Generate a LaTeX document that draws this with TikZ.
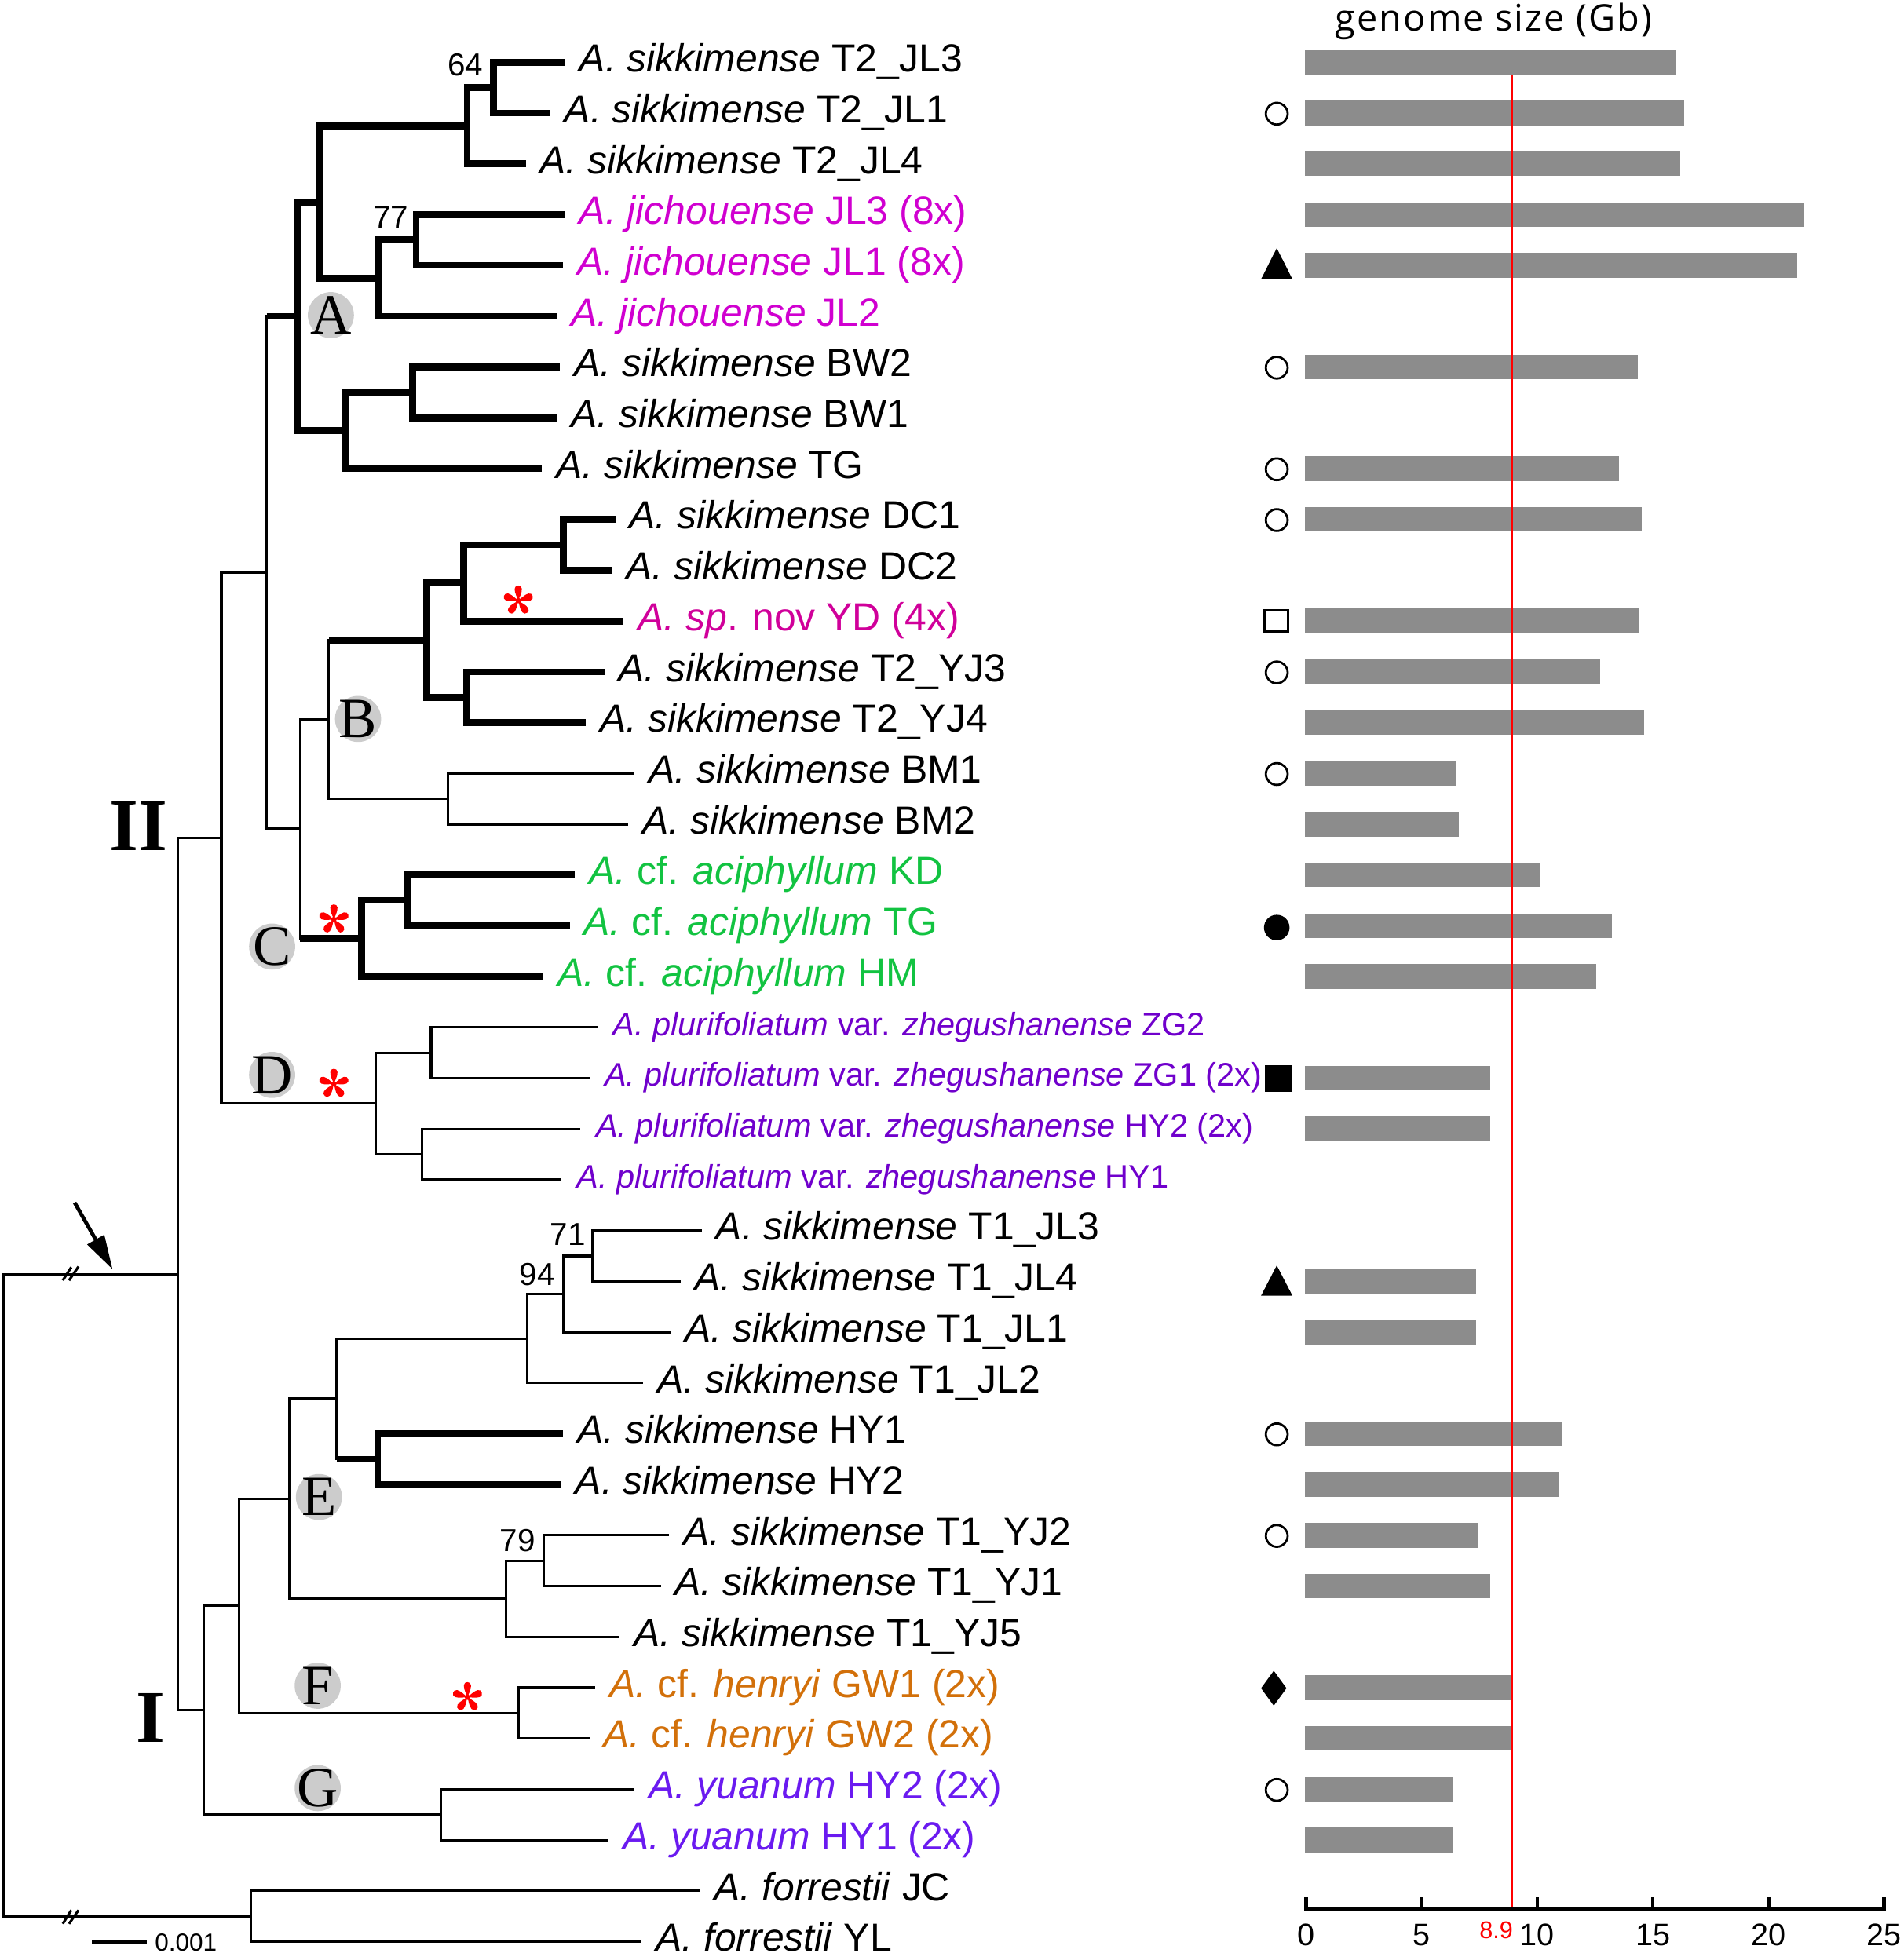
\documentclass[tikz,border=0pt]{standalone}
\usepackage{fontspec}
\setmainfont{Liberation Sans}
\newfontfamily\serifletters{Liberation Serif}
\newfontfamily\titlefont[LetterSpace=4.5]{Open Sans}
\usetikzlibrary{arrows.meta}
\definecolor{cmag}{HTML}{D000D0}
\definecolor{cpink}{HTML}{D0009A}
\definecolor{cgreen}{HTML}{12C341}
\definecolor{cpur}{HTML}{7000CC}
\definecolor{corange}{HTML}{D2700A}
\definecolor{cviol}{HTML}{6A1AF0}
\definecolor{cred}{HTML}{FF0000}
\definecolor{cgray}{HTML}{CCCCCC}
\definecolor{barg}{HTML}{8C8C8C}
\newcommand\tredge[3]{\draw[#1] (#2 |- #3) -- (#3);}
\newcommand\tvert[4]{\draw[#1] (#2 |- #3) -- (#2 |- #4);}
\begin{document}
\begin{tikzpicture}[x=0.02cm,y=-0.02cm,
  thn/.style={line width=0.04cm},
  thk/.style={line width=0.11cm},
  thkv/.style={line width=0.11cm, line cap=rect},
  thnv/.style={line width=0.04cm, line cap=rect},
  lbl/.style={anchor=base west, inner sep=0pt, xshift=0.22cm, yshift=-0.155cm, font=\fontsize{17.9}{20}\selectfont},
  plbl/.style={anchor=base west, inner sep=0pt, xshift=0.24cm, yshift=-0.13cm, font=\fontsize{14.9}{17}\selectfont, text=cpur},
  boot/.style={inner sep=0pt, font=\fontsize{14.5}{16}\selectfont},
  clab/.style={circle, fill=cgray, minimum size=0.74cm, inner sep=0pt},
  cletter/.style={inner sep=0pt, font=\serifletters\fontsize{26}{28}\selectfont},
  roman/.style={inner sep=0pt, font=\serifletters\bfseries\fontsize{34}{36}\selectfont},
  ocirc/.style={circle, draw, line width=0.035cm, minimum size=0.35cm, inner sep=0pt},
  fcirc/.style={circle, fill, minimum size=0.41cm, inner sep=0pt},
  redast/.pic={
    \foreach \a in {90,162,234,306,18} {
      \fill[cred, rotate=\a] (0,0) .. controls (3,-1) and (6,-3) .. (9.5,-2.9) .. controls (13,-2.8) and (13,2.8) .. (9.5,2.9) .. controls (6,3) and (3,1) .. (0,0);
    }
    \fill[cred] (0,0) circle (2.2);
  }
]
\useasboundingbox (0,0) rectangle (1528,1568);

% ---------- leaves ----------
\coordinate (L0) at (453.6,50.0);
\coordinate (L1) at (441.6,90.8);
\coordinate (L2) at (422,131.6);
\coordinate (L3) at (453.6,172.3);
\coordinate (L4) at (452,213.1);
\coordinate (L5) at (447,253.9);
\coordinate (L6) at (449.5,294.7);
\coordinate (L7) at (447,335.5);
\coordinate (L8) at (435,376.2);
\coordinate (L9) at (493.9,417.0);
\coordinate (L10) at (491.2,457.8);
\coordinate (L11) at (500.6,498.6);
\coordinate (L12) at (485,539.4);
\coordinate (L13) at (470.3,580.1);
\coordinate (L14) at (509.5,620.9);
\coordinate (L15) at (504.3,661.7);
\coordinate (L16) at (461.5,702.5);
\coordinate (L17) at (457.3,743.3);
\coordinate (L18) at (436.4,784.0);
\coordinate (L19) at (479.7,824.8);
\coordinate (L20) at (473,865.6);
\coordinate (L21) at (466,906.4);
\coordinate (L22) at (450.5,947.2);
\coordinate (L23) at (563.4,987.9);
\coordinate (L24) at (546.1,1028.7);
\coordinate (L25) at (538.3,1069.5);
\coordinate (L26) at (516.3,1110.3);
\coordinate (L27) at (452,1151.1);
\coordinate (L28) at (450.5,1191.8);
\coordinate (L29) at (537.2,1232.6);
\coordinate (L30) at (530.4,1273.4);
\coordinate (L31) at (497.5,1314.2);
\coordinate (L32) at (478,1355.0);
\coordinate (L33) at (473,1395.7);
\coordinate (L34) at (509.5,1436.5);
\coordinate (L35) at (488.6,1477.3);
\coordinate (L36) at (561.8,1518.1);
\coordinate (L37) at (515,1558.9);

% ---------- internal nodes ----------
\coordinate (n64) at (396,70.4);
\coordinate (nT2) at (375,101.0);
\coordinate (n77) at (334,192.7);
\coordinate (nJi) at (304,223.3);
\coordinate (nA1) at (256,162.2);
\coordinate (nBW) at (331,315.1);
\coordinate (nBT) at (277,345.7);
\coordinate (nA) at (239,253.9);
\coordinate (nDC) at (452,437.4);
\coordinate (nDY) at (372,468.0);
\coordinate (nYJ) at (374.7,559.8);
\coordinate (nBX) at (342.3,513.9);
\coordinate (nBM) at (359.5,641.3);
\coordinate (nB) at (264,577.6);
\coordinate (nKD) at (326.6,722.9);
\coordinate (nC) at (290,753.5);
\coordinate (nBC) at (241,665.5);
\coordinate (n214) at (214,459.7);
\coordinate (nZG) at (346,845.2);
\coordinate (nHYp) at (338.6,926.8);
\coordinate (nD) at (301.5,886.0);
\coordinate (n178) at (177.7,672.9);
\coordinate (n71) at (475.6,1008.3);
\coordinate (n94) at (452,1038.9);
\coordinate (nJL) at (423.3,1074.6);
\coordinate (nHY) at (303.1,1171.5);
\coordinate (n270) at (270.2,1123.0);
\coordinate (n79) at (436.4,1253.0);
\coordinate (nYJ5) at (406,1283.6);
\coordinate (nE) at (232.6,1203.3);
\coordinate (nF) at (416.5,1375.4);
\coordinate (nEF) at (191.8,1289.3);
\coordinate (nG) at (353.8,1456.9);
\coordinate (nI) at (163.6,1373.1);
\coordinate (nII) at (143,1023.0);
\coordinate (nFo) at (201.2,1538.5);
\coordinate (root) at (3,1280.8);

% ---------- clade A (thick) ----------
\tvert{thkv}{n64}{L0}{L1}
\tredge{thk}{n64}{L0} \tredge{thk}{n64}{L1}
\tvert{thkv}{nT2}{n64}{L2}
\tredge{thk}{nT2}{n64} \tredge{thk}{nT2}{L2}
\tvert{thkv}{n77}{L3}{L4}
\tredge{thk}{n77}{L3} \tredge{thk}{n77}{L4}
\tvert{thkv}{nJi}{n77}{L5}
\tredge{thk}{nJi}{n77} \tredge{thk}{nJi}{L5}
\tvert{thkv}{nA1}{nT2}{nJi}
\tredge{thk}{nA1}{nT2} \tredge{thk}{nA1}{nJi}
\tvert{thkv}{nBW}{L6}{L7}
\tredge{thk}{nBW}{L6} \tredge{thk}{nBW}{L7}
\tvert{thkv}{nBT}{nBW}{L8}
\tredge{thk}{nBT}{nBW} \tredge{thk}{nBT}{L8}
\tvert{thkv}{nA}{nA1}{nBT}
\tredge{thk}{nA}{nA1} \tredge{thk}{nA}{nBT}

% ---------- clade B ----------
\tvert{thkv}{nDC}{L9}{L10}
\tredge{thk}{nDC}{L9} \tredge{thk}{nDC}{L10}
\tvert{thkv}{nDY}{nDC}{L11}
\tredge{thk}{nDY}{nDC} \tredge{thk}{nDY}{L11}
\tvert{thkv}{nYJ}{L12}{L13}
\tredge{thk}{nYJ}{L12} \tredge{thk}{nYJ}{L13}
\tvert{thkv}{nBX}{nDY}{nYJ}
\tredge{thk}{nBX}{nDY} \tredge{thk}{nBX}{nYJ}
\tvert{thnv}{nBM}{L14}{L15}
\tredge{thn}{nBM}{L14} \tredge{thn}{nBM}{L15}
\tvert{thnv}{nB}{nBX}{nBM}
\tredge{thk}{nB}{nBX} \tredge{thn}{nB}{nBM}

% ---------- clade C ----------
\tvert{thkv}{nKD}{L16}{L17}
\tredge{thk}{nKD}{L16} \tredge{thk}{nKD}{L17}
\tvert{thkv}{nC}{nKD}{L18}
\tredge{thk}{nC}{nKD} \tredge{thk}{nC}{L18}
\tvert{thnv}{nBC}{nB}{nC}
\tredge{thn}{nBC}{nB} \tredge{thk}{nBC}{nC}
\tvert{thnv}{n214}{nA}{nBC}
\tredge{thk}{n214}{nA} \tredge{thn}{n214}{nBC}

% ---------- clade D ----------
\tvert{thnv}{nZG}{L19}{L20}
\tredge{thn}{nZG}{L19} \tredge{thn}{nZG}{L20}
\tvert{thnv}{nHYp}{L21}{L22}
\tredge{thn}{nHYp}{L21} \tredge{thn}{nHYp}{L22}
\tvert{thnv}{nD}{nZG}{nHYp}
\tredge{thn}{nD}{nZG} \tredge{thn}{nD}{nHYp}
\tvert{thnv}{n178}{n214}{nD}
\tredge{thn}{n178}{n214} \tredge{thn}{n178}{nD}

% ---------- clade E ----------
\tvert{thnv}{n71}{L23}{L24}
\tredge{thn}{n71}{L23} \tredge{thn}{n71}{L24}
\tvert{thnv}{n94}{n71}{L25}
\tredge{thn}{n94}{n71} \tredge{thn}{n94}{L25}
\tvert{thnv}{nJL}{n94}{L26}
\tredge{thn}{nJL}{n94} \tredge{thn}{nJL}{L26}
\tvert{thkv}{nHY}{L27}{L28}
\tredge{thk}{nHY}{L27} \tredge{thk}{nHY}{L28}
\tvert{thnv}{n270}{nJL}{nHY}
\tredge{thn}{n270}{nJL} \tredge{thk}{n270}{nHY}
\tvert{thnv}{n79}{L29}{L30}
\tredge{thn}{n79}{L29} \tredge{thn}{n79}{L30}
\tvert{thnv}{nYJ5}{n79}{L31}
\tredge{thn}{nYJ5}{n79} \tredge{thn}{nYJ5}{L31}
\tvert{thnv}{nE}{n270}{nYJ5}
\tredge{thn}{nE}{n270} \tredge{thn}{nE}{nYJ5}

% ---------- clades F, G, root ----------
\tvert{thnv}{nF}{L32}{L33}
\tredge{thn}{nF}{L32} \tredge{thn}{nF}{L33}
\tvert{thnv}{nEF}{nE}{nF}
\tredge{thn}{nEF}{nE} \tredge{thn}{nEF}{nF}
\tvert{thnv}{nG}{L34}{L35}
\tredge{thn}{nG}{L34} \tredge{thn}{nG}{L35}
\tvert{thnv}{nI}{nEF}{nG}
\tredge{thn}{nI}{nEF} \tredge{thn}{nI}{nG}
\tvert{thnv}{nII}{n178}{nI}
\tredge{thn}{nII}{n178} \tredge{thn}{nII}{nI}
\tvert{thnv}{nFo}{L36}{L37}
\tredge{thn}{nFo}{L36} \tredge{thn}{nFo}{L37}
\tvert{thnv}{root}{nII}{nFo}
\tredge{thn}{root}{nII} \tredge{thn}{root}{nFo}

% break marks
\draw[line width=0.04cm] (50.4,1028) -- (57.2,1017.4);
\draw[line width=0.04cm] (55.4,1028) -- (63,1016.9);
\draw[line width=0.04cm] (50.4,1544.5) -- (57.2,1533.6);
\draw[line width=0.04cm] (55.4,1544.5) -- (63,1533.6);

% arrow
\coordinate (arS) at (59.9,965.5);
\coordinate (arE) at (90.4,1019.1);
\draw[line width=0.06cm, -{Triangle[length=0.55cm, width=0.3cm]}] (arS) -- (arE);

% scale bar
\coordinate (sbL) at (74,1559.5);
\coordinate (sbR) at (117.7,1559.5);
\draw[line width=0.065cm] (sbL) -- (sbR);
\node[anchor=base west, inner sep=0pt, font=\fontsize{11.3}{12}\selectfont] (sbT) at (124,1566.5) {0.001};

% ---------- leaf labels ----------
\node[lbl] (t0) at (L0) {\textit{A. sikkimense} T2\_JL3};
\node[lbl] (t1) at (L1) {\textit{A. sikkimense} T2\_JL1};
\node[lbl] (t2) at (L2) {\textit{A. sikkimense} T2\_JL4};
\node[lbl, text=cmag] (t3) at (L3) {\textit{A. jichouense} JL3 (8x)};
\node[lbl, text=cmag] (t4) at (L4) {\textit{A. jichouense} JL1 (8x)};
\node[lbl, text=cmag] (t5) at (L5) {\textit{A. jichouense} JL2};
\node[lbl] (t6) at (L6) {\textit{A. sikkimense} BW2};
\node[lbl] (t7) at (L7) {\textit{A. sikkimense} BW1};
\node[lbl] (t8) at (L8) {\textit{A. sikkimense} TG};
\node[lbl] (t9) at (L9) {\textit{A. sikkimense} DC1};
\node[lbl] (t10) at (L10) {\textit{A. sikkimense} DC2};
\node[lbl, text=cpink] (t11) at (L11) {\textit{A. sp}. nov YD (4x)};
\node[lbl] (t12) at (L12) {\textit{A. sikkimense} T2\_YJ3};
\node[lbl] (t13) at (L13) {\textit{A. sikkimense} T2\_YJ4};
\node[lbl] (t14) at (L14) {\textit{A. sikkimense} BM1};
\node[lbl] (t15) at (L15) {\textit{A. sikkimense} BM2};
\node[lbl, text=cgreen] (t16) at (L16) {\textit{A.} cf. \textit{aciphyllum} KD};
\node[lbl, text=cgreen] (t17) at (L17) {\textit{A.} cf. \textit{aciphyllum} TG};
\node[lbl, text=cgreen] (t18) at (L18) {\textit{A.} cf. \textit{aciphyllum} HM};
\node[plbl] (t19) at (L19) {\textit{A. plurifoliatum} var. \textit{zhegushanense} ZG2};
\node[plbl] (t20) at (L20) {\textit{A. plurifoliatum} var. \textit{zhegushanense} ZG1 (2x)};
\node[plbl] (t21) at (L21) {\textit{A. plurifoliatum} var. \textit{zhegushanense} HY2 (2x)};
\node[plbl] (t22) at (L22) {\textit{A. plurifoliatum} var. \textit{zhegushanense} HY1};
\node[lbl] (t23) at (L23) {\textit{A. sikkimense} T1\_JL3};
\node[lbl] (t24) at (L24) {\textit{A. sikkimense} T1\_JL4};
\node[lbl] (t25) at (L25) {\textit{A. sikkimense} T1\_JL1};
\node[lbl] (t26) at (L26) {\textit{A. sikkimense} T1\_JL2};
\node[lbl] (t27) at (L27) {\textit{A. sikkimense} HY1};
\node[lbl] (t28) at (L28) {\textit{A. sikkimense} HY2};
\node[lbl] (t29) at (L29) {\textit{A. sikkimense} T1\_YJ2};
\node[lbl] (t30) at (L30) {\textit{A. sikkimense} T1\_YJ1};
\node[lbl] (t31) at (L31) {\textit{A. sikkimense} T1\_YJ5};
\node[lbl, text=corange] (t32) at (L32) {\textit{A.} cf. \textit{henryi} GW1 (2x)};
\node[lbl, text=corange] (t33) at (L33) {\textit{A.} cf. \textit{henryi} GW2 (2x)};
\node[lbl, text=cviol] (t34) at (L34) {\textit{A. yuanum} HY2 (2x)};
\node[lbl, text=cviol] (t35) at (L35) {\textit{A. yuanum} HY1 (2x)};
\node[lbl] (t36) at (L36) {\textit{A. forrestii} JC};
\node[lbl] (t37) at (L37) {\textit{A. forrestii} YL};

% bootstrap values
\node[boot] (b64) at (373.6,52) {64};
\node[boot] (b77) at (313.6,174.5) {77};
\node[boot] (b71) at (455.7,991.2) {71};
\node[boot] (b94) at (431.1,1023.3) {94};
\node[boot] (b79) at (415.5,1236.6) {79};

% clade circles
\node[clab] (cA) at (265.6,253) {}; \node[cletter] (lA) at (cA) {A};
\node[clab] (cB) at (287.4,577.2) {}; \node[cletter] (lB) at (cB) {B};
\node[clab] (cC) at (218.4,760) {}; \node[cletter] (lC) at (cC) {C};
\node[clab] (cD) at (218.4,863) {}; \node[cletter] (lD) at (cD) {D};
\node[clab] (cE) at (256,1201.9) {}; \node[cletter] (lE) at (cE) {E};
\node[clab] (cF) at (255,1353.4) {}; \node[cletter] (lF) at (cF) {F};
\node[clab] (cG) at (255,1435.6) {}; \node[cletter] (lG) at (cG) {G};

% roman numerals
\node[roman] (rII) at (111.3,663) {II};
\node[roman] (rI) at (121.2,1379.3) {I};

% asterisks
\pic at (416,482.2) {redast};
\pic at (268,738.2) {redast};
\pic at (268,870.2) {redast};
\pic at (375.2,1362.6) {redast};

% ---------- genome size panel ----------
\node[inner sep=0pt, font=\titlefont\fontsize{16.8}{18}\selectfont] (title) at (1199,17) {genome size (Gb)};
\foreach \r/\e in {0/1345.0, 1/1351.7, 2/1348.9, 3/1447.3, 4/1442.4, 6/1314.5, 8/1299.7, 9/1317.6, 11/1315.5, 12/1284.6, 13/1319.4, 14/1168.6, 15/1171.1, 16/1236.1, 17/1293.7, 18/1281.1, 20/1196.4, 21/1196.4, 24/1184.8, 25/1184.8, 27/1253.3, 28/1251.2, 29/1186.2, 30/1196.4, 32/1212.5, 33/1213.9, 34/1166.2, 35/1166.2} {
  \fill[barg] (1047.7,{50+40.78*\r-9.9}) rectangle (\e,{50+40.78*\r+9.9});
}
\draw[cred, line width=0.03cm] (1213.4,60) -- (1213.4,1533);

% markers
\foreach \r in {1,6,8,9,12,14,27,29,34} {
  \node[ocirc] at (1024.8,{50+40.78*\r+0.5}) {};
}
\node[draw, line width=0.035cm, minimum width=0.38cm, minimum height=0.345cm, inner sep=0pt] (msq) at (1024.6,498.3) {};
\node[fcirc] (mfc) at (1024.8,744.7) {};
\node[fill, minimum width=0.436cm, minimum height=0.428cm, inner sep=0pt] (mfs) at (1026,865.9) {};
\fill (1012.2,224.2) -- (1037.4,224.2) -- (1024.8,199.2) -- cycle;
\fill (1012.2,1040.3) -- (1037.4,1040.3) -- (1024.8,1016) -- cycle;
\fill (1022.4,1341.4) -- (1032.6,1355.4) -- (1022.4,1369.4) -- (1012.2,1355.4) -- cycle;

% axis
\draw[line width=0.07cm] (1048.4,1533) -- (1512.3,1533);
\foreach \v in {0,5,10,15,20,25} {
  \draw[line width=0.055cm] ({1048.4+18.556*\v},1534) -- ({1048.4+18.556*\v},1523);
  \node[anchor=base, inner sep=0pt, font=\fontsize{14.2}{15}\selectfont] at ({1048.4+18.556*\v},1562) {\v};
}
\node[anchor=base, inner sep=0pt, text=cred, font=\fontsize{11}{12}\selectfont] (v89) at (1201,1556.5) {8.9};
\end{tikzpicture}
\end{document}
